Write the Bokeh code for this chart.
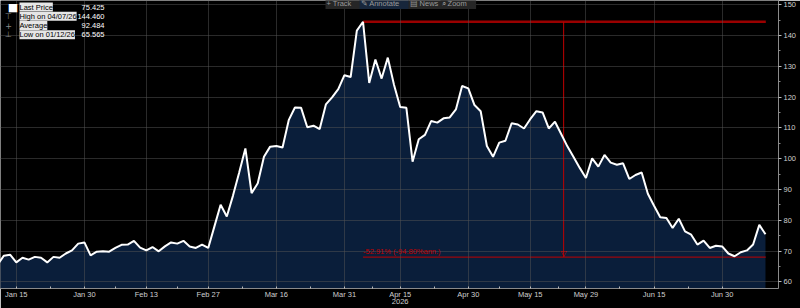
import pandas as pd
from bokeh.plotting import figure
from bokeh.models import ColumnDataSource, Range1d, FixedTicker, Label
from bokeh.embed import file_html
from bokeh.resources import INLINE

# ---------------- data ----------------
start_date = "2026-01-12"
holidays = ["2026-04-03", "2026-04-06", "2026-05-01", "2026-05-25"]

prices = [65.565, 68.5, 68.8, 66.3, 67.8, 67.2, 68.1, 67.8, 66.3, 68.1,
          67.8, 69.2, 70.2, 72.4, 72.8, 68.6, 69.8, 69.9, 69.8, 71.0,
          72.0, 72.1, 73.3, 71.1, 70.2, 71.3, 69.9, 71.5, 72.8, 72.4,
          73.3, 71.5, 71.0, 72.1, 71.0, 78.0, 85.0, 81.2, 88.0, 95.5,
          103.3, 88.8, 92.0, 100.6, 103.9, 104.1, 103.6, 112.5, 116.6, 116.5,
          110.2, 110.7, 109.6, 117.6, 119.9, 122.6, 127.1, 126.5, 141.6, 144.46,
          124.6, 132.2, 126.0, 132.8, 124.0, 116.8, 116.5, 99.0, 106.3, 107.7,
          112.2, 111.7, 113.1, 113.4, 116.0, 123.6, 122.8, 117.4, 115.4, 104.1,
          100.6, 105.2, 105.8, 111.5, 111.1, 109.8, 112.8, 115.4, 115.0, 109.8,
          112.0, 108.0, 104.0, 100.5, 97.0, 93.7, 100.1, 97.4, 101.2, 98.7,
          98.0, 98.5, 93.4, 94.7, 95.5, 88.6, 84.7, 81.0, 80.7, 77.5,
          80.5, 76.4, 75.3, 72.1, 73.4, 71.0, 71.7, 71.5, 69.2, 68.3,
          69.6, 70.2, 72.1, 78.5, 75.425]

tick_dates = ["2026-01-15", "2026-01-30", "2026-02-13", "2026-02-27", "2026-03-16",
              "2026-03-31", "2026-04-15", "2026-04-30", "2026-05-15", "2026-05-29",
              "2026-06-15", "2026-06-30"]
tick_labels = ["Jan 15", "Jan 30", "Feb 13", "Feb 27", "Mar 16", "Mar 31",
               "Apr 15", "Apr 30", "May 15", "May 29", "Jun 15", "Jun 30"]
year_label = "2026"
year_tick = "2026-04-15"

y_ticks = [60, 70, 80, 90, 100, 110, 120, 130, 140, 150]

legend_names = ["Last Price", "High on 04/07/26", "Average", "Low on 01/12/26"]
legend_values = ["75.425", "144.460", "92.484", "65.565"]

drawdown_pct = -52.91
drawdown_ann = -94.80
annotation_x = 91.4  # trading-day position of the measurement arrow

# ---------------- derived ----------------
dates = pd.bdate_range(start=start_date, periods=len(prices), freq="C", holidays=holidays)
xs = list(range(len(prices)))
src = ColumnDataSource(dict(x=xs, y=prices))

tick_idx = [int(dates.get_loc(pd.Timestamp(d))) for d in tick_dates]
minor_idx = [(a + b) / 2 for a, b in zip(tick_idx[:-1], tick_idx[1:])]
overrides = {i: lab for i, lab in zip(tick_idx, tick_labels)}
yt = int(dates.get_loc(pd.Timestamp(year_tick)))
overrides[yt] = overrides[yt] + "\n" + year_label

hi_val = max(prices)
hi_idx = prices.index(hi_val)
last_idx = len(prices) - 1
target = hi_val * (1 + drawdown_pct / 100.0)

FONT = "Liberation Sans"
x0, x1 = 0.45, 126.1
y0, y1 = 57.83, 151.36

p = figure(width=800, height=308, x_range=Range1d(x0, x1), y_range=Range1d(y0, y1),
           output_backend="svg", toolbar_location=None, y_axis_location="right",
           background_fill_color="black", border_fill_color="black",
           outline_line_color=None,
           min_border_left=0, min_border_top=0, min_border_right=22, min_border_bottom=19)

# area + line
area = p.varea(x="x", y1=y0, y2="y", source=src, fill_color="#0a1e3a")
area.level = "underlay"
ln = p.line("x", "y", source=src, line_color="white", line_width=2)
ln.level = "guide"

# grids
p.xgrid.ticker = FixedTicker(ticks=tick_idx)
p.ygrid.ticker = FixedTicker(ticks=y_ticks)
for g in (p.xgrid, p.ygrid):
    g.grid_line_color = "#555555"
    g.grid_line_dash = "1 1"
    g.grid_line_width = 1
    g.level = "glyph"

# x axis
xa = p.xaxis[0]
xa.ticker = FixedTicker(ticks=tick_idx, minor_ticks=minor_idx)
xa.major_label_overrides = overrides
xa.axis_line_color = "#8a8a8a"
xa.major_tick_line_color = "#bbbbbb"
xa.minor_tick_line_color = "#bbbbbb"
xa.major_tick_out = 0
xa.major_tick_in = 2
xa.minor_tick_out = 0
xa.minor_tick_in = 2
xa.major_label_standoff = 1
xa.major_label_text_color = "#cfcfcf"
xa.major_label_text_font = FONT
xa.major_label_text_font_size = "7.5px"
xa.major_label_text_line_height = 0.8

# y axis (right)
ya = p.yaxis[0]
ya.ticker = FixedTicker(ticks=y_ticks, minor_ticks=[v + 5 for v in y_ticks[:-1]])
ya.axis_line_color = "#8a8a8a"
ya.major_tick_line_color = "#bbbbbb"
ya.minor_tick_line_color = "#8a8a8a"
ya.major_tick_out = 3
ya.major_tick_in = 0
ya.minor_tick_out = 2
ya.minor_tick_in = 0
ya.major_label_standoff = 2
ya.major_label_text_color = "#cfcfcf"
ya.major_label_text_font = FONT
ya.major_label_text_font_size = "7.5px"

# ---------------- drawdown annotation ----------------
red = "#c00000"
p.segment(x0=[hi_idx], y0=[hi_val], x1=[last_idx + 0.05], y1=[hi_val],
          line_color="#9a0000", line_width=2.5)
p.segment(x0=[hi_idx], y0=[target], x1=[last_idx + 0.05], y1=[target],
          line_color=red, line_width=1)
p.segment(x0=[annotation_x], y0=[hi_val], x1=[annotation_x], y1=[target],
          line_color=red, line_width=1)
p.add_layout(Label(x=annotation_x, y=target, y_offset=-1, text="\u25bd",
                   text_align="center", text_baseline="bottom", text_color=red,
                   text_font="DejaVu Sans", text_font_size="8px"))
p.add_layout(Label(x=hi_idx, y=target, y_offset=1, text=f"{drawdown_pct:.2f}% ({drawdown_ann:.2f}%ann.)",
                   text_align="left", text_baseline="bottom", text_color=red,
                   text_font=FONT, text_font_size="7.5px"))

# last price tag on the axis
p.add_layout(Label(x=x1, y=prices[-1], x_offset=2, text=legend_values[0],
                   text_align="left", text_baseline="middle", text_color="black",
                   background_fill_color="white", text_font=FONT,
                   text_font_size="7.5px", padding=1))

# ---------------- legend (top-left) ----------------
row_y = [-6.5, -15.7, -25.0, -34.2]
p.add_layout(Label(x=x0, y=y1, x_offset=12.5, y_offset=row_y[0], text="\u25a0",
                   text_align="center", text_baseline="middle", text_color="white",
                   text_font="DejaVu Sans", text_font_size="11px"))
icons = ["\u22a4", "+", "\u22a5"]
for ry, ic in zip(row_y[1:], icons):
    p.add_layout(Label(x=x0, y=y1, x_offset=8, y_offset=ry, text=ic,
                       text_align="center", text_baseline="middle", text_color="#8a8a8a",
                       text_font="DejaVu Sans", text_font_size="8px"))
for ry, name, val in zip(row_y, legend_names, legend_values):
    p.add_layout(Label(x=x0, y=y1, x_offset=19, y_offset=ry, text=name,
                       text_align="left", text_baseline="middle", text_color="black",
                       background_fill_color="#e6e6e6", padding=0,
                       text_font=FONT, text_font_size="7.5px"))
    p.add_layout(Label(x=x0, y=y1, x_offset=104, y_offset=ry, text=val,
                       text_align="right", text_baseline="middle", text_color="white",
                       text_font=FONT, text_font_size="7.5px"))

# ---------------- toolbar strip (top) ----------------
tools = [("+ Track", 325, "#262626"), ("\u270e Annotate", 359, "#17263b"),
         ("\u25a4 News", 408, "#262626"), ("\u2315 Zoom", 440, "#262626")]
for txt, xo, bg in tools:
    p.add_layout(Label(x=x0, y=y1, x_offset=xo, y_offset=-3, text="  " + txt + "  ",
                       text_align="left", text_baseline="middle", text_color="#9a9a9a",
                       background_fill_color=bg, padding=1,
                       text_font=FONT, text_font_size="7.5px"))

open("out.html", "w").write(file_html(p, INLINE))
